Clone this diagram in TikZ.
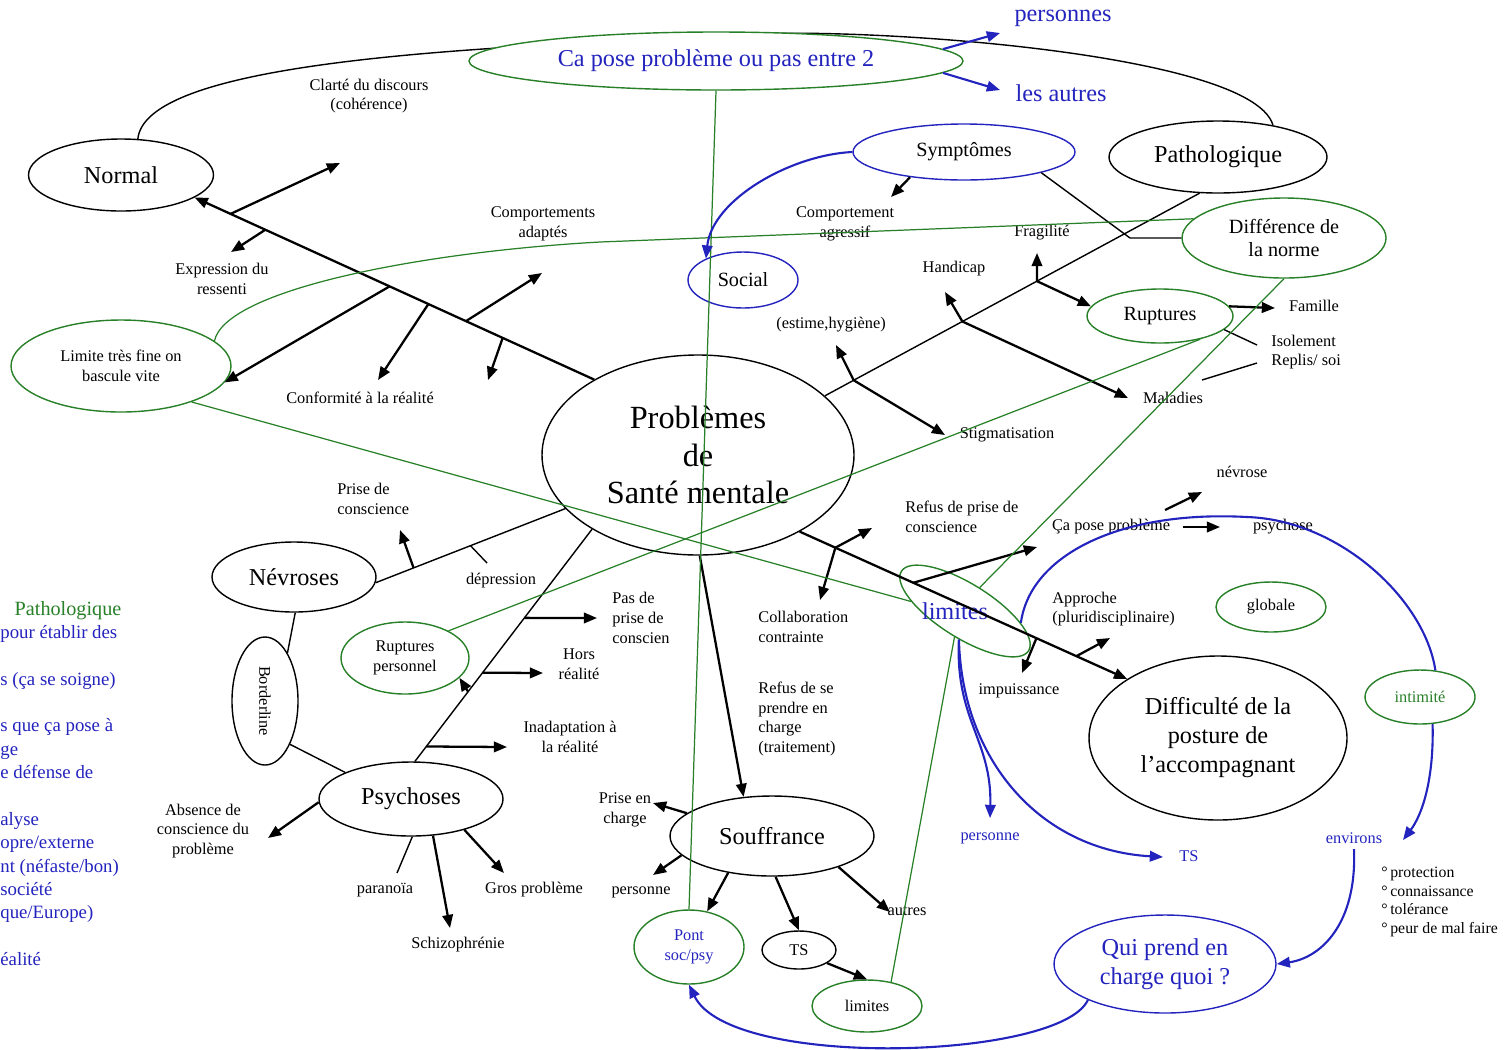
\documentclass[tikz,border=0pt]{standalone}
\usepackage{fontspec}
\setmainfont{Liberation Serif}
\usetikzlibrary{shapes.geometric,arrows.meta}
\definecolor{mapGreen}{RGB}{40,128,40}
\definecolor{mapBlue}{RGB}{35,35,190}
\newcommand\fsS{\fontsize{9.3}{11.3}\selectfont}
\newcommand\fsM{\fontsize{11.5}{13.2}\selectfont}
\newcommand\fsL{\fontsize{13.8}{16.5}\selectfont}
\newcommand\fsXL{\fontsize{18.4}{21.3}\selectfont}
\newcommand\fsSide{\fontsize{10.7}{13.3}\selectfont}
\newcommand\fsListe{\fontsize{9}{10.6}\selectfont}
\tikzset{
 bubble/.style 2 args={ellipse,draw,line width=0.8pt,inner sep=0pt,minimum width=#1*0.02cm,minimum height=#2*0.02cm},
 gbubble/.style 2 args={bubble={#1}{#2},draw=mapGreen},
 bbubble/.style 2 args={bubble={#1}{#2},draw=mapBlue},
 lbl/.style={font=\fsS,align=center,inner sep=0pt},
 lbll/.style={font=\fsS,align=left,inner sep=0pt,anchor=west},
 arr/.style={-{Triangle[length=7.5pt,width=6pt]},line width=1.3pt},
 thinline/.style={line width=0.8pt},
 glink/.style={mapGreen,line width=0.7pt},
 barr/.style={mapBlue,line width=1.2pt,-{Triangle[length=7.5pt,width=6pt]}}
}
\begin{document}
\begin{tikzpicture}[x=0.02cm,y=-0.02cm]
\useasboundingbox (0,0) rectangle (1506,1049);
\node[bubble={185}{72},font=\fsL] (normal) at (121,175) {Normal};
\node[bubble={218}{72},font=\fsL] (patho) at (1218,157) {Pathologique};
\draw[thinline] (normal.65) .. controls (145,70) and (400,48) .. (716,38) .. controls (780,22) and (1250,45) .. (patho.30);
\node[gbubble={494}{58},font=\fsL,text=mapBlue,fill=white] (capose) at (716,61) {Ca pose problème ou pas entre 2};
\node[bubble={312}{200},font=\fsXL,align=center] (prob) at (698,455) {Problèmes\\de\\Santé mentale};
\node[bubble={164}{70},font=\fsL] (nevroses) at (294,577) {Névroses};
\node[bubble={66}{128},font=\fsS] (borderline) at (265,701) {\rotatebox{-90}{Borderline}};
\node[bubble={184}{74},font=\fsL] (psychoses) at (411,799) {Psychoses};
\node[bubble={204}{80},font=\fsL] (souffrance) at (772,836) {Souffrance};
\node[bubble={74}{38},font=\fsS] (tsNode) at (799,950) {TS};
\node[bubble={258}{164},font=\fsL,align=center,inner xsep=-4pt] (difficulte) at (1218,738) {Difficulté de la\\posture de\\l’accompagnant};
\node[gbubble={220}{92},font=\fsS,align=center] (limite) at (121,366) {Limite très fine on\\bascule vite};
\node[gbubble={204}{80},font=\fsM,align=center] (diffNorme) at (1284,238) {Différence de\\la norme};
\node[gbubble={146}{54},font=\fsM] (ruptures) at (1160,316) {Ruptures};
\node[gbubble={128}{72},font=\fsS,align=center] (rupPerso) at (405,658) {Ruptures\\personnel};
\node[gbubble={150}{54},rotate=-32] (limMid) at (965,611) {};
\node[font=\fsL,text=mapBlue,inner sep=0pt] (limText) at (955,611) {limites};
\node[gbubble={110}{50},font=\fsS] (globale) at (1271,607) {globale};
\node[gbubble={110}{54},font=\fsS,text=mapGreen] (intimite) at (1420,697) {intimité};
\node[gbubble={110}{74},font=\fsS,align=center,text=mapBlue] (pont) at (689,947) {Pont\\soc/psy};
\node[gbubble={110}{52},font=\fsS] (limBas) at (867,1006) {limites};
\node[bbubble={222}{56},font=\fsM] (symptomes) at (964,152) {Symptômes};
\node[bbubble={110}{56},font=\fsM] (social) at (743,280) {Social};
\node[bbubble={222}{98},font=\fsL,align=center,text=mapBlue] (quiPrend) at (1165,964) {Qui prend en\\charge quoi ?};
\node[lbl] (clarte) at (369,96) {Clarté du discours\\(cohérence)};
\node[lbl] (expression) at (222,279) {Expression du\\ressenti};
\node[lbl] (compAdapt) at (543,224) {Comportements\\adaptés};
\node[lbl] (conformite) at (360,398) {Conformité à la réalité};
\node[lbl] (compAgr) at (845,224) {Comportement\\agressif};
\node[lbl] (fragilite) at (1042,233) {Fragilité};
\node[lbl] (handicap) at (954,269) {Handicap};
\node[lbl] (estime) at (831,325) {(estime,hygiène)};
\node[lbl] (stigma) at (1007,435) {Stigmatisation};
\node[lbl] (maladies) at (1173,398) {Maladies};
\node[lbl] (famille) at (1314,306) {Famille};
\node[lbll] (isolement) at (1271,352) {Isolement\\Replis/ soi};
\node[lbl] (nevrose) at (1242,472) {névrose};
\node[lbl] (caPose) at (1111,527) {Ça pose problème};
\node[lbl] (psychose) at (1283,527) {psychose};
\node[lbll] (refusPrise) at (905,517) {Refus de prise de\\conscience};
\node[lbll] (approche) at (1052,609) {Approche\\(pluridisciplinaire)};
\node[lbl] (impuissance) at (1019,691) {impuissance};
\node[lbll] (collab) at (758,627) {Collaboration\\contrainte};
\node[lbll] (refusSe) at (758,719) {Refus de se\\prendre en\\charge\\(traitement)};
\node[lbll] (priseCons) at (337,499) {Prise de\\conscience};
\node[lbl] (depression) at (501,581) {dépression};
\node[lbll] (pasPrise) at (612,618) {Pas de\\prise de\\conscien};
\node[lbl] (hors) at (579,664) {Hors\\réalité};
\node[lbl] (inadapt) at (570,737) {Inadaptation à\\la réalité};
\node[lbl] (absence) at (203,831) {Absence de\\conscience du\\problème};
\node[lbl] (paranoia) at (385,890) {paranoïa};
\node[lbl] (schizo) at (458,945) {Schizophrénie};
\node[lbl] (gros) at (534,890) {Gros problème};
\node[lbl] (priseCharge) at (625,810) {Prise en\\charge};
\node[lbl] (personne) at (641,892) {personne};
\node[lbl] (autres) at (907,911) {autres};
\node[lbl,text=mapBlue] (personneB) at (990,838) {personne};
\node[lbl,text=mapBlue] (tsBlue) at (1189,856) {TS};
\node[lbl,text=mapBlue,inner sep=3pt] (environs) at (1354,838) {environs};
\node[lbl,font=\fsL,text=mapBlue] (personnes) at (1063,18) {personnes};
\node[lbl,font=\fsL,text=mapBlue] (lesAutres) at (1061,93) {les autres};
\node[lbll,font=\fsListe] (liste) at (1381,902) {°\,protection\\°\,connaissance\\°\,tolérance\\°\,peur de mal faire};
\node[font=\fsM,text=mapGreen,inner sep=0pt] (sidePatho) at (68,611) {Pathologique};
\node[font=\fsSide,text=mapBlue,align=left,inner sep=0pt,anchor=north west] (sideNote) at (0,625) {pour établir des\\ ~\\s (ça se soigne)\\ ~\\s que ça pose à\\ge\\e défense de\\ ~\\alyse\\opre/externe\\nt (néfaste/bon)\\ société\\que/Europe)\\ ~\\éalité};
\coordinate (tipClarte) at (340,163);
\coordinate (tipExpr) at (231,252);
\coordinate (tipConf) at (378,380);
\coordinate (tipAdapt) at (542,273);
\coordinate (tipConf2) at (488,380);
\coordinate (tipFrag) at (1037,253);
\coordinate (tipHand) at (945,292);
\coordinate (tipMal) at (1128,398);
\coordinate (tipEst) at (836,345);
\coordinate (tipStig) at (945,435);
\coordinate (symCorner) at (1130,238);
\coordinate (tipRefus) at (872,528);
\coordinate (tipColl) at (820,600);
\coordinate (tipPose) at (1037,547);
\coordinate (tipImp) at (1022,673);
\coordinate (tipAppr) at (1110,638);
\coordinate (nevStart) at (1165,510);
\coordinate (nevTip) at (1202,492);
\coordinate (psyStart) at (1183,527);
\coordinate (psyTip) at (1220,527);
\coordinate (tipPrise) at (400,530);
\coordinate (tickDep) at (487,563);
\coordinate (tipPas) at (597,618);
\coordinate (tipHors) at (543,673);
\coordinate (tipInad) at (507,747);
\coordinate (tipAbs) at (268,838);
\coordinate (tickPara) at (397,873);
\coordinate (tipSchizo) at (450,928);
\coordinate (tipGros) at (504,873);
\coordinate (tipPrise2) at (653,803);
\coordinate (tipPers) at (653,875);
\coordinate (tipAutres) at (890,912);
\coordinate (tipFam) at (1275,308);
\coordinate (tickIso) at (1257,345);
\coordinate (replisA) at (1202,380);
\coordinate (replisB) at (1257,363);
\coordinate (tipAgr) at (891,197);
\coordinate (tipPersonnes) at (1000,33);
\coordinate (tipAutres2) at (1000,90);
\coordinate (tipPersBlue) at (990,818);
\coordinate (tipTS) at (1163,857);
\coordinate (tipEnv) at (1403,840);
\draw[arr] (prob.144) -- (normal.-17) coordinate[pos=0.229] (s1a) coordinate[pos=0.321] (s1b) coordinate[pos=0.415] (s1c) coordinate[pos=0.512] (s1d) coordinate[pos=0.823] (s1e) coordinate[pos=0.91] (s1f);
\draw[arr] (s1f) -- (tipClarte);
\draw[arr] (s1e) -- (tipExpr);
\draw[arr] (s1d) -- (limite.-9);
\draw[arr] (s1c) -- (tipConf);
\draw[arr] (s1b) -- (tipAdapt);
\draw[arr] (s1a) -- (tipConf2);
\draw[thinline] (prob.25) -- (patho.-117) coordinate[pos=0.077] (s2a) coordinate[pos=0.367] (s2b) coordinate[pos=0.566] (s2c);
\draw[arr] (s2c) -- (tipFrag);
\draw[arr] (s2c) -- (ruptures.172);
\draw[arr] (s2b) -- (tipHand);
\draw[arr] (s2b) -- (tipMal);
\draw[arr] (s2a) -- (tipEst);
\draw[arr] (s2a) -- (tipStig);
\draw[thinline] (symptomes.-15) -- (symCorner) -- (diffNorme.west);
\draw[arr] (symptomes.-155) -- (tipAgr);
\draw[arr] (prob.-37) -- (difficulte.147) coordinate[pos=0.109] (s3a) coordinate[pos=0.347] (s3b) coordinate[pos=0.723] (s3c) coordinate[pos=0.845] (s3d);
\draw[arr] (s3a) -- (tipRefus);
\draw[arr] (s3a) -- (tipColl);
\draw[arr] (s3b) -- (tipPose);
\draw[arr] (s3c) -- (tipImp);
\draw[arr] (s3d) -- (tipAppr);
\draw[arr] (nevStart) -- (nevTip);
\draw[arr] (psyStart) -- (psyTip);
\draw[thinline] (prob.202) -- (nevroses.-4) coordinate[pos=0.8] (s4a) coordinate[pos=0.5] (s4b);
\draw[arr] (s4a) -- (tipPrise);
\draw[thinline] (s4b) -- (tickDep);
\draw[thinline] (prob.215) -- (psychoses.84) coordinate[pos=0.382] (s5a) coordinate[pos=0.618] (s5b) coordinate[pos=0.7] (s5c) coordinate[pos=0.936] (s5d);
\draw[arr] (s5a) -- (tipPas);
\draw[arr] (s5b) -- (tipHors);
\draw[arr] (s5c) -- (rupPerso.-20);
\draw[arr] (s5d) -- (tipInad);
\draw[arr] (psychoses.182) -- (tipAbs);
\draw[thinline] (psychoses.-88) -- (tickPara);
\draw[arr] (psychoses.-59) -- (tipSchizo);
\draw[arr] (psychoses.-30) -- (tipGros);
\draw[thinline] (nevroses.-88) -- (borderline.65);
\draw[thinline] (borderline.-60) -- (psychoses.158);
\draw[arr] (prob.-89) -- (souffrance.126);
\draw[arr] (souffrance.165) -- (tipPrise2);
\draw[arr] (souffrance.192) -- (tipPers);
\draw[arr] (souffrance.-140) -- (pont.63);
\draw[arr] (souffrance.-85) -- (tsNode.north);
\draw[arr] (souffrance.-25) -- (tipAutres);
\draw[arr] (tsNode.-25) -- (limBas.north);
\draw[arr] (ruptures.8) -- (tipFam);
\draw[thinline] (ruptures.-12) -- (tickIso);
\draw[thinline] (replisA) -- (replisB);
\draw[glink] (capose.south) -- (pont.north);
\draw[glink] (limite.15) .. controls (225,290) and (420,252) .. (600,242) -- (diffNorme.168);
\draw[glink] (limite.-27) -- (limMid.202);
\draw[glink] (rupPerso.32) -- (ruptures.-30);
\draw[glink] (diffNorme.-90) -- (limMid.90);
\draw[glink] (limMid.-80) -- (limBas.45);
\draw[barr] (capose.3) -- (tipPersonnes);
\draw[barr] (capose.-3) -- (tipAutres2);
\draw[barr] (symptomes.west) .. controls (790,155) and (712,200) .. (social.150);
\draw[mapBlue,line width=1.2pt] (limMid.20) .. controls (1030,555) and (1120,510) .. (1247,517) .. controls (1340,520) and (1425,600) .. (intimite.60);
\draw[barr] (intimite.-65) .. controls (1434,780) and (1422,815) .. (tipEnv);
\draw[barr] (environs.south) .. controls (1357,925) and (1320,958) .. (quiPrend.east);
\draw[barr] (quiPrend.-155) .. controls (1060,1060) and (730,1070) .. (pont.south);
\draw[barr] (limMid.-70) .. controls (955,720) and (992,740) .. (tipPersBlue);
\draw[barr] (limMid.-70) .. controls (962,760) and (1040,850) .. (tipTS);
\end{tikzpicture}
\end{document}
